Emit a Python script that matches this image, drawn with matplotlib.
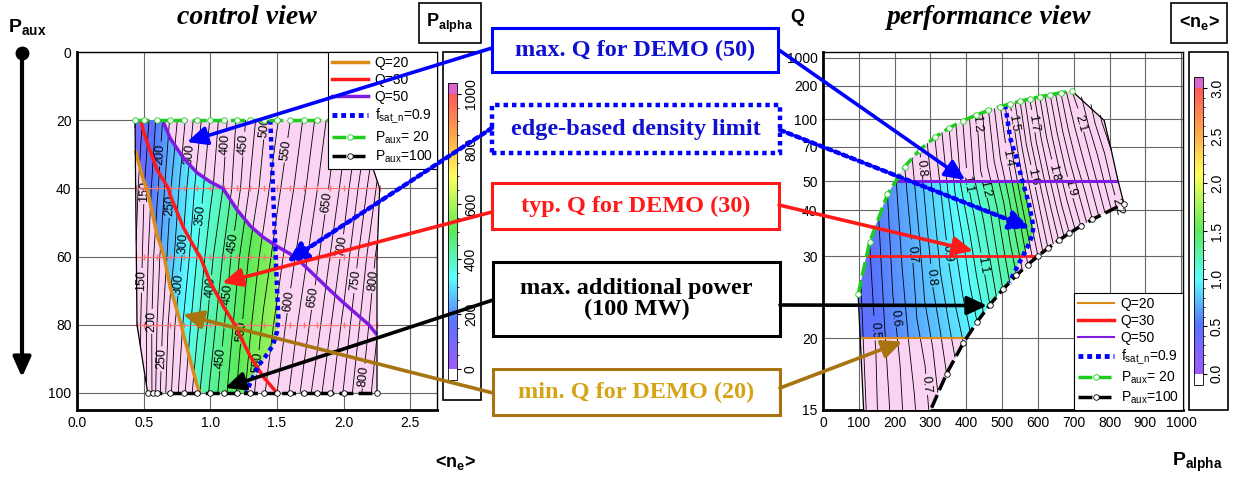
import numpy as np
import matplotlib
matplotlib.use("Agg")
import matplotlib.pyplot as plt
from matplotlib.colors import LinearSegmentedColormap, Normalize
from matplotlib.patches import Rectangle, Polygon, ConnectionPatch, FancyArrowPatch
from matplotlib.lines import Line2D
from matplotlib.ticker import FixedLocator, NullLocator, FormatStrFormatter
import matplotlib.cm as cm

plt.rcParams['font.family'] = ['Liberation Sans', 'DejaVu Sans']
plt.rcParams['mathtext.fontset'] = 'custom'
plt.rcParams['mathtext.rm'] = 'Liberation Sans'
plt.rcParams['mathtext.it'] = 'Liberation Sans:italic'
plt.rcParams['mathtext.bf'] = 'Liberation Sans:bold'

# ---------------- data ----------------
PAUX_ROWS = [20, 40, 60, 80, 100]                      # MW
NE_GRID = [
    [0.435, 0.50, 0.6, 0.7, 0.8, 0.9, 1.0, 1.1, 1.2, 1.3, 1.4, 1.5, 1.6, 1.7, 1.8, 1.9, 2.0, 2.10],
    [0.440, 0.50, 0.6, 0.7, 0.8, 0.9, 1.0, 1.1, 1.2, 1.3, 1.4, 1.5, 1.6, 1.7, 1.8, 1.9, 2.0, 2.27],
    [0.445, 0.50, 0.6, 0.7, 0.8, 0.9, 1.0, 1.1, 1.2, 1.3, 1.4, 1.5, 1.6, 1.7, 1.8, 1.9, 2.0, 2.25],
    [0.450, 0.50, 0.6, 0.7, 0.8, 0.9, 1.0, 1.1, 1.2, 1.3, 1.4, 1.5, 1.6, 1.7, 1.8, 1.9, 2.0, 2.25],
    [0.530, 0.57, 0.6, 0.7, 0.8, 0.9, 1.0, 1.1, 1.2, 1.3, 1.4, 1.5, 1.6, 1.7, 1.8, 1.9, 2.0, 2.25],
]
PALPHA_GRID = [
    [98, 130, 180, 228, 270, 312, 352, 390, 428, 462, 495, 522, 550, 577, 605, 634, 664, 695],
    [115, 148, 195, 248, 290, 333, 368, 402, 440, 478, 512, 543, 568, 595, 624, 654, 685, 785],
    [128, 155, 215, 262, 306, 350, 392, 428, 468, 505, 535, 562, 590, 617, 645, 676, 708, 805],
    [135, 162, 225, 285, 328, 370, 410, 448, 486, 522, 555, 582, 610, 638, 666, 698, 732, 822],
    [180, 205, 235, 296, 345, 392, 430, 466, 502, 540, 572, 600, 628, 658, 688, 720, 752, 840],
]
FSAT_LEFT_NE = [1.45, 1.47, 1.49, 1.51, 1.50, 1.47, 1.41, 1.36, 1.30, 1.27]
FSAT_LEFT_PAUX = [20, 40, 60, 78, 82, 86, 89.5, 92, 97, 100]
FSAT_RIGHT_PALPHA = [508, 515, 522, 540, 556, 575, 587, 585, 570, 556, 540, 520]
FSAT_RIGHT_Q = [128, 100, 78, 62, 50.6, 42, 36, 34, 31.5, 29.8, 28, 26]

Q_LEVELS = [20, 30, 50]
PALPHA_LABEL_LEVELS = [150, 200, 250, 300, 350, 400, 450, 500, 550, 600, 650, 700, 750, 800]
PALPHA_OTHER_LEVELS = [100, 125, 175, 225, 275, 325, 375, 425, 475, 525, 575, 625, 675, 725, 775, 825]
NE_LABEL_LEVELS = [0.5, 0.6, 0.7, 0.8, 0.9, 1.0, 1.1, 1.2, 1.3, 1.4, 1.5, 1.6, 1.7, 1.8, 1.9, 2.0, 2.1, 2.2]
NE_OTHER_LEVELS = [0.45, 0.55, 0.65, 0.75, 0.85, 0.95, 1.05, 1.15, 1.25, 1.35, 1.45, 1.55, 1.65,
                   1.75, 1.85, 1.95, 2.05, 2.15, 2.25]
LABEL_POS_LEFT = [(0.64, 30), (0.85, 30), (1.11, 27), (1.24, 27), (0.50, 41), (0.68, 45), (0.92, 48),
                  (0.79, 56), (1.16, 56), (1.41, 22), (1.60, 29), (1.88, 44), (1.97, 57), (0.49, 67),
                  (0.56, 79), (0.64, 90), (0.76, 68), (1.00, 69), (1.12, 71), (1.25, 82), (1.09, 90),
                  (1.35, 91), (1.60, 73), (1.77, 72), (2.07, 67), (2.20, 67), (2.14, 95)]
LABEL_POS_RIGHT = [(140, 20.7), (207, 21.9), (285, 16.5), (249, 30.3), (307, 26.8), (346, 30.5),
                   (447, 28.6), (276, 56), (388, 48.6), (466, 47.7), (438, 94.6), (517, 62),
                   (531, 94.6), (587, 51.8), (584, 94.6), (640, 53.9), (698, 47.7), (723, 94.6),
                   (835, 40.7)]
X_TICKS_L = [0.0, 0.5, 1.0, 1.5, 2.0, 2.5]
Y_TICKS_L = [0, 20, 40, 60, 80, 100]
X_TICKS_R = [0, 100, 200, 300, 400, 500, 600, 700, 800, 900, 1000]
Y_TICKS_R = [15, 20, 30, 40, 50, 70, 100, 200, 1000]
CB_TICKS_L = [0, 200, 400, 600, 800, 1000]
CB_TICKS_R = [0.0, 0.5, 1.0, 1.5, 2.0, 2.5, 3.0]

# ---------------- styles ----------------
PINK = '#FAD4F2'
ORANGE = '#D98C1A'
RED = '#FF1A1A'
PURPLE = '#7F1AE0'
GREEN = '#1ECC1E'
BLUE = '#0000FF'
BROWN = '#A8740F'
GOLD = '#D4A414'
MAGENTA = '#D966CC'
cmap = LinearSegmentedColormap.from_list('pal', [
    (0.0, (0.62, 0.35, 1.0)), (0.17, (0.35, 0.45, 1.0)), (0.33, (0.35, 1.0, 1.0)),
    (0.5, (0.35, 0.92, 0.35)), (0.7, (1.0, 1.0, 0.35)), (0.85, (1.0, 0.65, 0.3)),
    (1.0, (1.0, 0.35, 0.35))])
cmap.set_under('white')
cmap.set_over(MAGENTA)

W, H = 1236, 479
fig = plt.figure(figsize=(W / 100, H / 100), dpi=100)


def fx(px):
    return px / W


def fy(py):
    return 1 - py / H


NE = np.array(NE_GRID, float)
PA = np.array(PALPHA_GRID, float)
PX = np.repeat(np.array(PAUX_ROWS, float)[:, None], NE.shape[1], axis=1)
QQ = 5.0 * PA / PX          # Q = P_fus/P_aux = 5 P_alpha / P_aux


def outline(X, Y):
    xs = np.concatenate([X[0, :], X[1:, -1], X[-1, -2::-1], X[-2:0:-1, 0]])
    ys = np.concatenate([Y[0, :], Y[1:, -1], Y[-1, -2::-1], Y[-2:0:-1, 0]])
    return np.column_stack([xs, ys])


def style_axes(ax):
    for s in ['left', 'bottom']:
        ax.spines[s].set_linewidth(2.0)
    for s in ['top', 'right']:
        ax.spines[s].set_linewidth(1.0)
    ax.grid(True, color='0.4', lw=0.8)
    ax.set_axisbelow(True)
    ax.tick_params(length=0, labelsize=10, pad=4)


def q_legend_handles(lws):
    return [
        Line2D([], [], color=ORANGE, lw=lws[0], label='Q=20'),
        Line2D([], [], color=RED, lw=lws[1], label='Q=30'),
        Line2D([], [], color=PURPLE, lw=lws[2], label='Q=50'),
        Line2D([], [], color=BLUE, lw=3.5, ls=(0, (1, 0.8)), label=r'f$_{\mathrm{sat\_n}}$=0.9'),
        Line2D([], [], color=GREEN, lw=2.5, ls=(0, (4, 1.5)), marker='o', ms=4, mfc='white',
               mec=GREEN, mew=0.6, label=r'P$_{\mathrm{aux}}$= 20'),
        Line2D([], [], color='k', lw=2.5, ls=(0, (4, 1.5)), marker='o', ms=4, mfc='white',
               mec='k', mew=0.6, label=r'P$_{\mathrm{aux}}$=100'),
    ]


def contour_with_labels(ax, X, Y, Z, other_levels, label_levels, positions, fmt):
    ax.contour(X, Y, Z, levels=other_levels, colors='k', linewidths=0.6, zorder=4)
    cs = ax.contour(X, Y, Z, levels=label_levels, colors='k', linewidths=0.6, zorder=4)
    labs = ax.clabel(cs, manual=positions, fmt=fmt, fontsize=9, inline=True, inline_spacing=2)
    for t in labs:
        t.set_zorder(4.5)


def make_legend(ax, lws, loc):
    leg = ax.legend(handles=q_legend_handles(lws), loc=loc, borderaxespad=0, fontsize=10,
                    handlelength=2.6, handletextpad=0.45, labelspacing=0.22, borderpad=0.3,
                    fancybox=False, framealpha=1, edgecolor='k')
    leg.get_frame().set_linewidth(0.8)
    leg.set_zorder(20)


# ================= left: control view =================
ax1 = fig.add_axes([fx(77), fy(410), fx(360), 358 / H])
ax1.set_xlim(0, 2.7)
ax1.set_ylim(105, 0)
style_axes(ax1)
ax1.set_xticks(X_TICKS_L)
ax1.xaxis.set_major_formatter(FormatStrFormatter('%.1f'))
ax1.set_yticks(Y_TICKS_L)

dom1 = Polygon(outline(NE, PX), closed=True, fc=PINK, ec='none', zorder=1)
ax1.add_patch(dom1)
ax1.contourf(NE, PX, PA, levels=np.linspace(0, 1000, 201), cmap=cmap,
             norm=Normalize(0, 1000), zorder=2, antialiased=False)
ax1.contourf(NE, PX, QQ, levels=[0, Q_LEVELS[0]], colors=[PINK], zorder=3)
ax1.contourf(NE, PX, QQ, levels=[Q_LEVELS[2], 1e4], colors=[PINK], zorder=3)
fs1 = Polygon(list(zip(FSAT_LEFT_NE, FSAT_LEFT_PAUX)) +
              [(FSAT_LEFT_NE[-1], 115), (3.5, 115), (3.5, 5), (FSAT_LEFT_NE[0], 5)],
              closed=True, fc=PINK, ec='none', zorder=3)
ax1.add_patch(fs1)
fs1.set_clip_path(dom1)

contour_with_labels(ax1, NE, PX, PA, PALPHA_OTHER_LEVELS, PALPHA_LABEL_LEVELS,
                    LABEL_POS_LEFT, '%d')

for i in (1, 2, 3):
    ax1.plot(NE[i], PX[i], color=(1, 0.45, 0.45), lw=0.8, marker='|', ms=4, zorder=5)
ax1.contour(NE, PX, QQ, levels=Q_LEVELS, colors=[ORANGE, RED, PURPLE], linewidths=2.5, zorder=6)
ax1.plot(FSAT_LEFT_NE, FSAT_LEFT_PAUX, color=BLUE, lw=3.2, ls=(0, (1, 0.9)), zorder=7)
ax1.plot(NE[:, 0], PX[:, 0], color='k', lw=0.9, zorder=8)
ax1.plot(NE[:, -1], PX[:, -1], color='k', lw=0.9, zorder=8)
ax1.plot(NE[0], PX[0], color=GREEN, lw=2.5, ls=(0, (4, 1.5)), marker='o', ms=4,
         mfc='white', mec=GREEN, mew=0.6, zorder=9)
ax1.plot(NE[-1], PX[-1], color='k', lw=2.5, ls=(0, (4, 1.5)), marker='o', ms=4,
         mfc='white', mec='k', mew=0.6, zorder=9)
make_legend(ax1, [2.5, 2.5, 2.5], 'upper right')

# ================= right: performance view =================


def fwd(q):
    q = np.asarray(q, float)
    with np.errstate(all='ignore'):
        return q / (q + 5.0)


def inv(y):
    y = np.asarray(y, float)
    with np.errstate(all='ignore'):
        return 5.0 * y / (1.0 - y)


ax2 = fig.add_axes([fx(823), fy(410), fx(360), 358 / H])
ax2.set_yscale('function', functions=(fwd, inv))
ax2.set_xlim(0, 1005)
ax2.set_ylim(15, 6000)
style_axes(ax2)
ax2.set_xticks(X_TICKS_R)
ax2.yaxis.set_major_locator(FixedLocator(Y_TICKS_R))
ax2.yaxis.set_minor_locator(NullLocator())
ax2.yaxis.set_major_formatter(FormatStrFormatter('%d'))

dom2 = Polygon(outline(PA, QQ), closed=True, fc=PINK, ec='none', zorder=1)
ax2.add_patch(dom2)
cf = ax2.contourf(PA, QQ, NE, levels=np.linspace(0, 3, 241), cmap=cmap,
                  norm=Normalize(0, 3), zorder=2, antialiased=False)
cf.set_clip_path(dom2)
for lv in ([0, Q_LEVELS[0]], [Q_LEVELS[2], 1e4]):
    ov = ax2.contourf(PA, QQ, QQ, levels=lv, colors=[PINK], zorder=3)
    ov.set_clip_path(dom2)
fs2 = Polygon(list(zip(FSAT_RIGHT_PALPHA, FSAT_RIGHT_Q)) +
              [(FSAT_RIGHT_PALPHA[-1], 16), (1300, 16), (1300, 3000), (FSAT_RIGHT_PALPHA[0], 3000)],
              closed=True, fc=PINK, ec='none', zorder=3)
ax2.add_patch(fs2)
fs2.set_clip_path(dom2)

contour_with_labels(ax2, PA, QQ, NE, NE_OTHER_LEVELS, NE_LABEL_LEVELS, LABEL_POS_RIGHT,
                    lambda v: f"{v:g}")

ax2.contour(PA, QQ, QQ, levels=Q_LEVELS, colors=[ORANGE, RED, PURPLE],
            linewidths=[1.5, 2.0, 2.2], zorder=6)
ax2.plot(FSAT_RIGHT_PALPHA, FSAT_RIGHT_Q, color=BLUE, lw=3.2, ls=(0, (1, 0.9)), zorder=7)
ax2.plot(PA[:, 0], QQ[:, 0], color='k', lw=0.9, zorder=8)
ax2.plot(PA[:, -1], QQ[:, -1], color='k', lw=0.9, zorder=8)
ax2.plot(PA[0], QQ[0], color=GREEN, lw=2.5, ls=(0, (4, 1.5)), marker='o', ms=4,
         mfc='white', mec=GREEN, mew=0.6, zorder=9)
ax2.plot(PA[-1], QQ[-1], color='k', lw=2.5, ls=(0, (4, 1.5)), marker='o', ms=4,
         mfc='white', mec='k', mew=0.6, zorder=9)
make_legend(ax2, [1.5, 2.5, 1.5], 'lower right')

# ================= colorbars =================


def make_cbar(rect, vmax, ticks, fmt, box):
    cax = fig.add_axes(rect)
    sm = cm.ScalarMappable(norm=Normalize(0, vmax), cmap=cmap)
    cb = fig.colorbar(sm, cax=cax, extend='both', extendrect=True, extendfrac=0.04)
    cb.set_ticks(ticks)
    cb.ax.yaxis.set_major_formatter(FormatStrFormatter(fmt))
    cb.minorticks_on()
    cb.outline.set_linewidth(0.6)
    cax.tick_params(which='major', length=3, labelsize=10, pad=2)
    cax.tick_params(which='minor', length=1.5)
    for lb in cax.get_yticklabels():
        lb.set_rotation(90)
        lb.set_va('center')
        lb.set_ha('left')
    x0, y0, x1, y1 = box
    fig.add_artist(Rectangle((fx(x0), fy(y1)), fx(x1 - x0), (y1 - y0) / H,
                             transform=fig.transFigure, fill=False, ec='k', lw=1.2))
    return cb


make_cbar([fx(448), fy(380), fx(9), 297 / H], 1000, CB_TICKS_L, '%d', (443, 52, 481, 400))
make_cbar([fx(1194), fy(385), fx(9), 308 / H], 3.0, CB_TICKS_R, '%.1f', (1189, 52, 1228, 410))

# ================= text =================
fig.text(fx(247), fy(17), 'control view', family='Liberation Serif', weight='bold',
         style='italic', fontsize=20, ha='center', va='center')
fig.text(fx(989), fy(17), 'performance view', family='Liberation Serif', weight='bold',
         style='italic', fontsize=20, ha='center', va='center')
fig.text(fx(27), fy(27), r'P$_{\mathbf{aux}}$', weight='bold', fontsize=14, ha='center', va='center')
fig.text(fx(797), fy(17), 'Q', weight='bold', fontsize=13, ha='center', va='center')
fig.text(fx(455), fy(462), r'<n$_{\mathbf{e}}$>', weight='bold', fontsize=13, ha='center', va='center')
fig.text(fx(1197), fy(462), r'P$_{\mathbf{alpha}}$', weight='bold', fontsize=14, ha='center', va='center')

fig.add_artist(Rectangle((fx(419), fy(43)), fx(62), 40 / H, transform=fig.transFigure,
                         fill=False, ec='k', lw=1.2))
fig.text(fx(450), fy(23), r'P$_{\mathbf{alpha}}$', weight='bold', fontsize=13, ha='center', va='center')
fig.add_artist(Rectangle((fx(1171), fy(43)), fx(56), 40 / H, transform=fig.transFigure,
                         fill=False, ec='k', lw=1.2))
fig.text(fx(1199), fy(22), r'<n$_{\mathbf{e}}$>', weight='bold', fontsize=13, ha='center', va='center')

# vertical P_aux arrow
fig.add_artist(FancyArrowPatch((fx(22), fy(55)), (fx(22), fy(380)), transform=fig.transFigure,
                               arrowstyle='-|>,head_length=0.6,head_width=0.27',
                               mutation_scale=20, lw=3, color='k'))
fig.add_artist(Line2D([fx(22)], [fy(53)], marker='o', ms=9, color='k', transform=fig.transFigure))

# annotation boxes
BOXES = [
    ((492, 28, 778, 72), 'max. Q for DEMO (50)', BLUE, '#1010D0', '-'),
    ((492, 105, 780, 153), 'edge-based density limit', BLUE, '#1010D0', ':'),
    ((492, 183, 779, 229), 'typ. Q for DEMO (30)', RED, RED, '-'),
    ((493, 262, 780, 336), 'max. additional power\n(100 MW)', 'k', 'k', '-'),
    ((493, 369, 780, 415), 'min. Q for DEMO (20)', BROWN, GOLD, '-'),
]
for (x0, y0, x1, y1), txt, ec, tc, ls in BOXES:
    if ls == ':':
        fig.add_artist(Rectangle((fx(x0), fy(y1)), fx(x1 - x0), (y1 - y0) / H,
                                 transform=fig.transFigure, fill=False, ec=ec, lw=3.2,
                                 ls=(0, (1, 0.9))))
    else:
        fig.add_artist(Rectangle((fx(x0), fy(y1)), fx(x1 - x0), (y1 - y0) / H,
                                 transform=fig.transFigure, fill=False, ec=ec, lw=2.2))
    fig.text(fx((x0 + x1) / 2), fy((y0 + y1) / 2), txt, family='Liberation Serif',
             weight='bold', fontsize=17.5, color=tc, ha='center', va='center',
             linespacing=1.05)

# arrows: (tail in image px, head in data coords, axes, colour, dotted)
ARROWS = [
    ((492, 48), (0.825, 26.4), ax1, BLUE, False),
    ((779, 50), (397, 50.6), ax2, BLUE, False),
    ((492, 128), (1.575, 61.6), ax1, BLUE, True),
    ((780, 130), (578, 35.5), ax2, BLUE, True),
    ((492, 212), (1.09, 67.7), ax1, RED, False),
    ((779, 205), (419, 30.9), ax2, RED, False),
    ((493, 300), (1.11, 98.5), ax1, 'k', False),
    ((780, 305), (458, 23.2), ax2, 'k', False),
    ((493, 393), (0.795, 77), ax1, BROWN, False),
    ((780, 388), (221, 19.7), ax2, BROWN, False),
]
for (tx, ty), head, ax, col, dotted in ARROWS:
    kw = dict(lw=3.2, ls=(0, (1, 0.9))) if dotted else dict(lw=2.6)
    cp = ConnectionPatch(xyA=(fx(tx), fy(ty)), coordsA=fig.transFigure, xyB=head,
                         coordsB=ax.transData, arrowstyle='-|>,head_length=0.6,head_width=0.28',
                         mutation_scale=20, color=col, zorder=30, **kw)
    fig.add_artist(cp)

fig.savefig('out.png', dpi=100)
